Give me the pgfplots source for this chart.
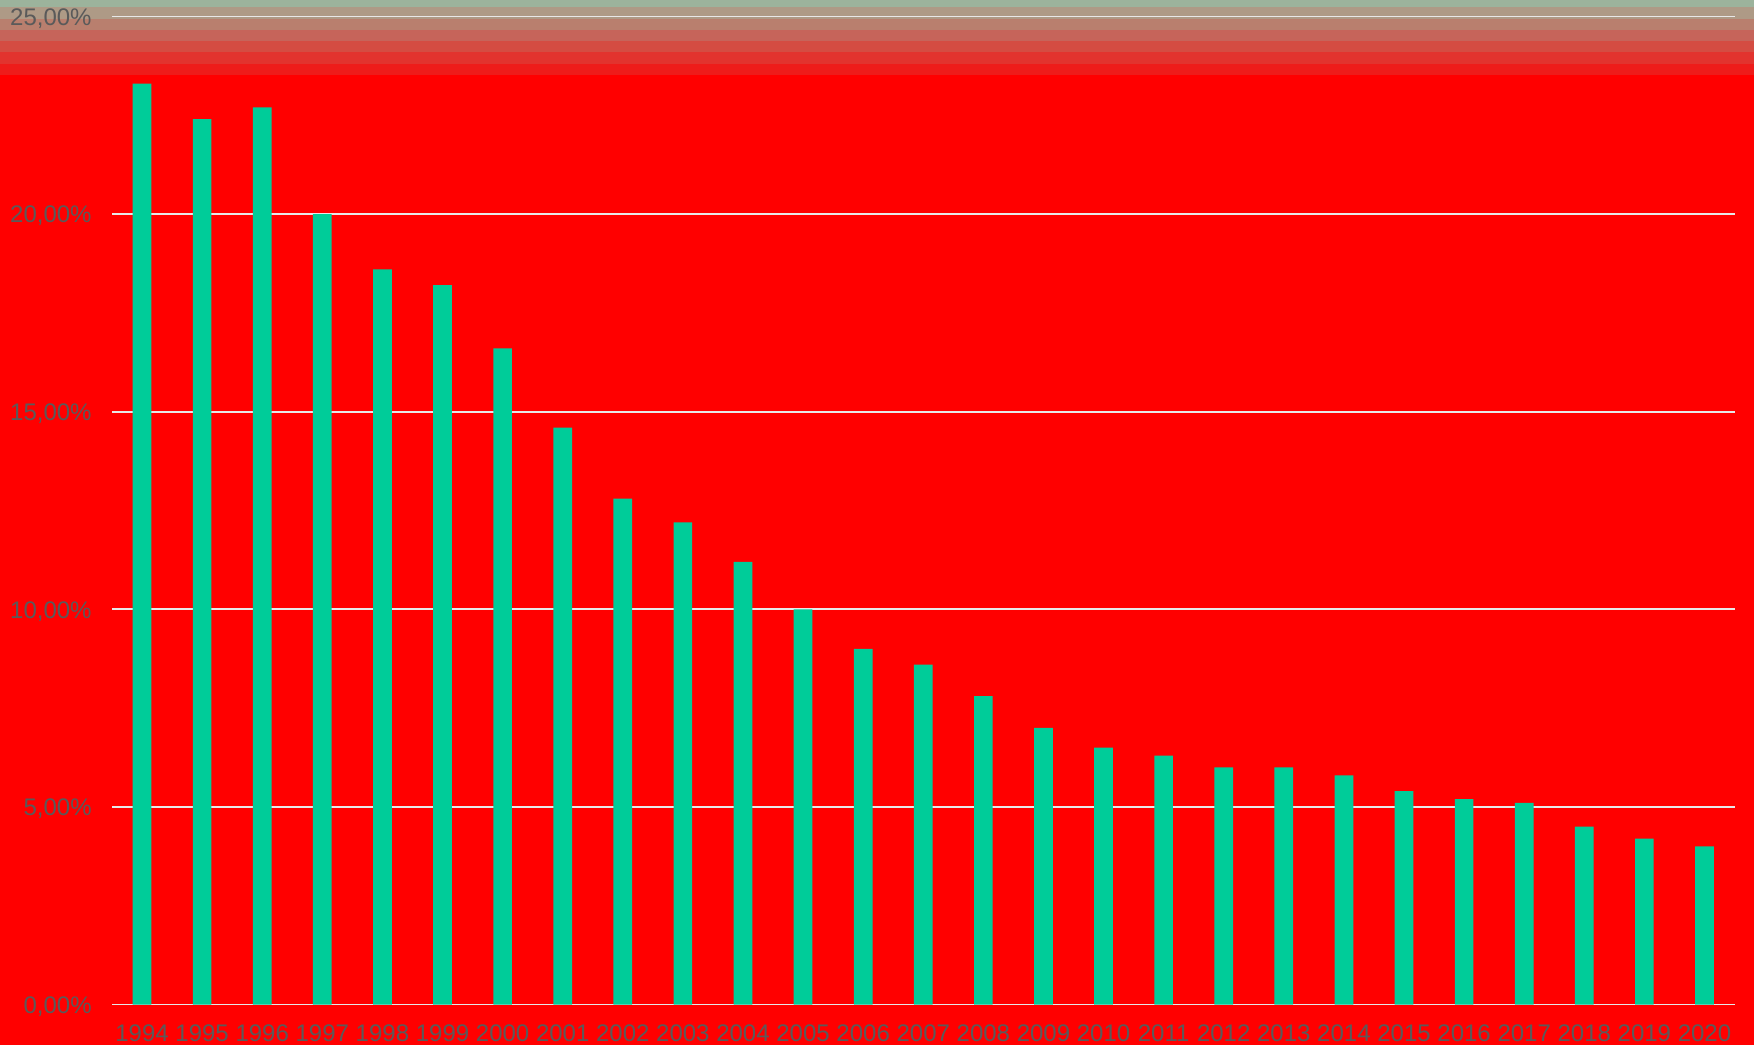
\documentclass[border=0pt]{standalone}
\usepackage{pgfplots}
\pgfplotsset{compat=1.18}
\usepackage{fontspec}
\setmainfont{Liberation Sans}

\definecolor{barfill}{RGB}{0,204,153}
\definecolor{labelgray}{RGB}{90,90,90}
\definecolor{gridwhite}{RGB}{232,232,232}
\definecolor{bandA}{RGB}{156,179,156}
\definecolor{bandB}{RGB}{174,154,134}
\definecolor{bandC}{RGB}{185,127,110}
\definecolor{bandD}{RGB}{198,100,90}
\definecolor{bandE}{RGB}{212,76,66}
\definecolor{bandF}{RGB}{226,51,46}
\definecolor{bandG}{RGB}{238,28,26}

\pgfplotstableread{
x year share
0  1994 23.3
1  1995 22.4
2  1996 22.7
3  1997 20.0
4  1998 18.6
5  1999 18.2
6  2000 16.6
7  2001 14.6
8  2002 12.8
9  2003 12.2
10 2004 11.2
11 2005 10.0
12 2006 9.0
13 2007 8.6
14 2008 7.8
15 2009 7.0
16 2010 6.5
17 2011 6.3
18 2012 6.0
19 2013 6.0
20 2014 5.8
21 2015 5.4
22 2016 5.2
23 2017 5.1
24 2018 4.5
25 2019 4.2
26 2020 4.0
}\sharetable

\begin{document}
\begin{tikzpicture}
% canvas: 877pt x 522.5pt
\useasboundingbox (0,0) rectangle (877pt,522.5pt);
\fill[red] (0,0) rectangle (877pt,522.5pt);
% banded fade at the top edge
\fill[bandG] (0,485pt)    rectangle (877pt,490.5pt);
\fill[bandF] (0,490.5pt)  rectangle (877pt,496.5pt);
\fill[bandE] (0,496.5pt)  rectangle (877pt,502pt);
\fill[bandD] (0,502pt)    rectangle (877pt,507.5pt);
\fill[bandC] (0,507.5pt)  rectangle (877pt,513pt);
\fill[bandB] (0,513pt)    rectangle (877pt,519.2pt);
\fill[bandA] (0,519.2pt)  rectangle (877pt,522.5pt);

\begin{axis}[
  at={(56pt,20.25pt)}, anchor=south west,
  scale only axis,
  width=811.25pt, height=494pt,
  xmin=-0.5, xmax=26.5,
  ymin=0, ymax=25,
  axis line style={draw=none},
  tick style={draw=none},
  major tick length=0pt,
  ymajorgrids,
  grid style={gridwhite, line width=0.9pt},
  xtick=data,
  xticklabels={1994,1995,1996,1997,1998,1999,2000,2001,2002,2003,2004,2005,2006,2007,2008,2009,2010,2011,2012,2013,2014,2015,2016,2017,2018,2019,2020},
  ytick={0,5,10,15,20,25},
  yticklabels={{0,00\%},{5,00\%},{10,00\%},{15,00\%},{20,00\%},{25,00\%}},
  ticklabel style={font=\fontsize{12}{14}\selectfont, text=labelgray, inner sep=0pt},
  yticklabel style={anchor=east, xshift=-10pt, yshift=-1pt},
  xticklabel style={anchor=north, yshift=-10pt},
  clip=false,
]
\addplot[ybar, bar width=9.35pt, fill=barfill, draw=none]
  table[x=x, y=share] {\sharetable};
\end{axis}
\end{tikzpicture}
\end{document}
